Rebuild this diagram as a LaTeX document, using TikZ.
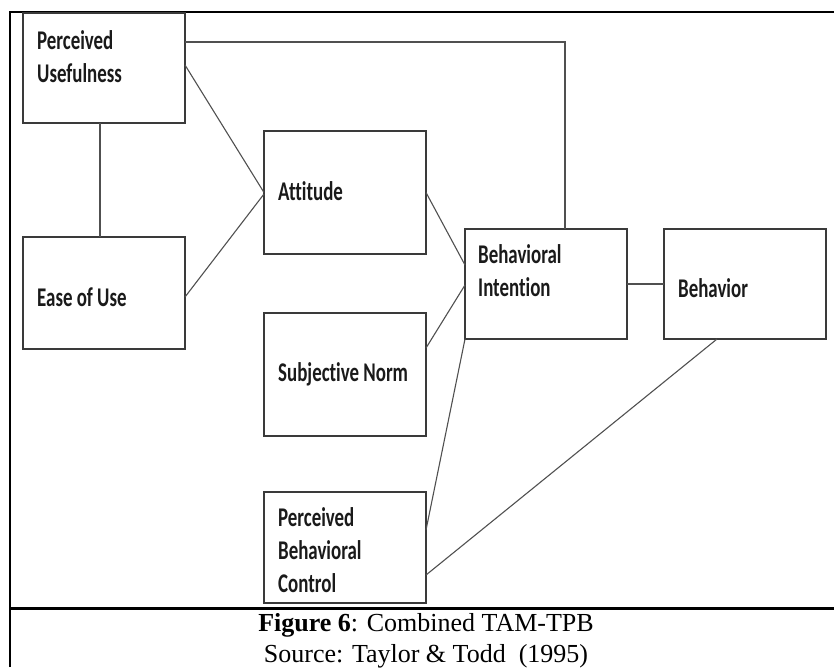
\documentclass[tikz,border=0pt]{standalone}
\usepackage{fontspec}
\setmainfont{Liberation Serif}
\newfontfamily\boxfont[FakeStretch=0.70, Ligatures=CommonOff]{Carlito}
\usetikzlibrary{calc}
\definecolor{boxline}{HTML}{3A3A3A}
\definecolor{connline}{HTML}{505050}
\definecolor{txt}{HTML}{1A1A1A}
\tikzset{
  box/.style={draw=boxline, line width=1.3pt, inner sep=0pt, outer sep=0pt, minimum width=162pt},
  conn/.style={draw=connline, line width=1.1pt},
  lbl/.style={anchor=base west, inner sep=0pt, align=left, text=txt,
    font=\boxfont\bfseries\fontsize{27}{33}\selectfont},
  frame/.style={draw=black, line width=2.3pt},
  captext/.style={anchor=base, inner sep=0pt, font=\fontsize{26}{32}\selectfont}
}
\begin{document}
\begin{tikzpicture}[x=1pt,y=-1pt]
\useasboundingbox (0,0) rectangle (834,667);
% frame
\draw[frame] (10,667) -- (10,12) -- (834,12);
\draw[frame] (10,608.5) -- (834,608.5);
% boxes
\node[box, minimum height=110pt] (pu)  at (104,68) {};
\node[box, minimum height=112pt] (eou) at (104,293) {};
\node[box, minimum height=123pt] (att) at (345,192.5) {};
\node[box, minimum height=123pt] (sn)  at (345,374.5) {};
\node[box, minimum height=111pt] (pbc) at (345,547.5) {};
\node[box, minimum height=110pt] (bi)  at (546,284) {};
\node[box, minimum height=110pt] (beh) at (745,284) {};
% labels (base = baseline of last line)
\node[lbl] (pu-t)  at (37,82)   {Perceived\\Usefulness};
\node[lbl] (eou-t) at (37,306)  {Ease of Use};
\node[lbl] (att-t) at (278,200) {Attitude};
\node[lbl] (sn-t)  at (278,381) {Subjective Norm};
\node[lbl] (pbc-t) at (278,592) {Perceived\\Behavioral\\Control};
\node[lbl] (bi-t)  at (478,296) {Behavioral\\Intention};
\node[lbl] (beh-t) at (678,297) {Behavior};
% connectors
\draw[conn] ($(pu.north east)+(0,29)$) -| ($(bi.north west)+(100,0)$);
\draw[conn] ($(pu.north east)+(0,52)$) -- (att.west);
\draw[conn] ($(eou.north east)+(0,60)$) -- ($(att.west)+(0,1.5)$);
\draw[conn] ($(pu.south)+(-4,0)$) -- ($(eou.north)+(-4,0)$);
\draw[conn] (att.east) -- ($(bi.north west)+(0,36)$);
\draw[conn] ($(sn.north east)+(0,35)$) -- ($(bi.north west)+(0,56)$);
\draw[conn] ($(pbc.north east)+(0,38)$) -- (bi.south west);
\draw[conn] ($(pbc.north east)+(0,83)$) -- ($(beh.south west)+(53,0)$);
\draw[conn] (bi.east) -- (beh.west);
% caption
\node[captext] (cap1) at (426,631) {\textbf{Figure 6}: Combined TAM-TPB};
\node[captext] (cap2) at (426,662) {Source: Taylor \& Todd\ \ (1995)};
\end{tikzpicture}
\end{document}
